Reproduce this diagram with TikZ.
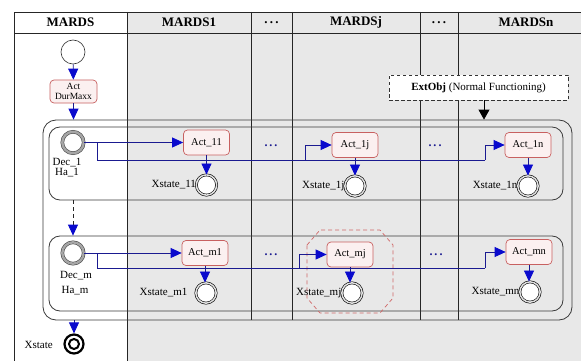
\documentclass[tikz,border=0pt]{standalone}
\usepackage{fontspec}
\setmainfont{Liberation Serif}
\usetikzlibrary{arrows.meta}
\definecolor{bgray}{HTML}{E8E8E8}
\definecolor{actred}{HTML}{C86060}
\definecolor{actfill}{HTML}{FBF0F0}
\definecolor{navy}{HTML}{1A1A90}
\definecolor{tipblue}{HTML}{0A0ACD}
\definecolor{boxline}{HTML}{3A3A3A}
\definecolor{octred}{HTML}{D06868}
\begin{document}
\begin{tikzpicture}[x=1pt,y=-1pt,
  tline/.style={draw=black!85,line width=0.9pt},
  hdr/.style={font=\fontsize{13}{14}\selectfont\bfseries,inner sep=0pt},
  lbl/.style={font=\fontsize{11}{12}\selectfont,inner sep=0pt},
  actbox/.style={draw=actred,fill=actfill,rounded corners=4pt,minimum width=46pt,minimum height=25pt,inner sep=0pt,line width=0.7pt,font=\fontsize{10.5}{11}\selectfont},
  region/.style={draw=boxline,rounded corners=11pt,line width=0.8pt,inner sep=0pt},
  decstate/.style={circle,draw=black!70,double=black!35,double distance=2.4pt,line width=0.6pt,minimum size=21.4pt,inner sep=0pt,fill=white},
  xstate/.style={circle,draw=black,double=black!12,double distance=1.5pt,line width=0.6pt,minimum size=20.3pt,inner sep=0pt,fill=white},
  conn/.style={draw=navy,line width=0.8pt},
  arr/.style={-{Triangle[width=10pt,length=11pt,color=tipblue]}},
  blackarr/.style={draw=black,line width=0.8pt,-{Triangle[width=11pt,length=10pt,color=black]}},
  dots/.style={font=\fontsize{12}{12}\selectfont\bfseries,text=navy,inner sep=0pt}
]
\useasboundingbox (0,0) rectangle (581,361);
\fill[white] (0,0) rectangle (581,361);
\fill[bgray] (127,12) rectangle (581,361);

% table
\draw[tline] (14,361) -- (14,12) -- (581,12);
\draw[tline] (14,33) -- (581,33);
\draw[tline] (127,12) -- (127,361);
\foreach \cx in {251,292,420,458} \draw[tline] (\cx,12) -- (\cx,320);

\node[hdr] (h0) at (70.5,22.5) {MARDS};
\node[hdr] (h1) at (189,22.5) {MARDS1};
\node[hdr] (h2) at (271.5,23) {.\,.\,.};
\node[hdr] (h3) at (356,22.5) {MARDSj};
\node[hdr] (h4) at (439,23) {.\,.\,.};
\node[hdr] (h5) at (526,22.5) {MARDSn};

% regions
\node[region,minimum width=529pt,minimum height=200pt,rounded corners=13pt] (outer) at (307.5,220) {};
\node[region,minimum width=514pt,minimum height=73pt] (box1) at (306,163.5) {};
\node[region,minimum width=514pt,minimum height=75pt] (boxm) at (306,273.5) {};

% highlighted area
\draw[draw=octred,line width=0.7pt,dash pattern=on 4pt off 3pt]
  (307,245) -- (320,230) -- (380,230) -- (393,245) -- (393,298) -- (380,313) -- (320,313) -- (307,298) -- cycle;

% external object
\node[draw=black!80,dash pattern=on 3.5pt off 2.5pt,line width=0.7pt,fill=white,minimum width=179pt,minimum height=25pt,inner sep=0pt,font=\fontsize{11}{12}\selectfont] (ext) at (478.5,87.5) {\textbf{ExtObj} (Normal Functioning)};
\coordinate (extx) at (484,0);

% MARDS column
\node[circle,draw=black!80,fill=white,line width=0.6pt,minimum size=24pt,inner sep=0pt] (start) at (73,52) {};
\node[actbox,minimum width=47pt,minimum height=23pt,align=center,font=\fontsize{9.5}{10}\selectfont] (dur) at (73.5,91.5) {Act\\DurMaxx};

% row 1
\node[decstate] (dec1) at (73,142.5) {};
\node[lbl] (dec1a) at (67,162.5) {Dec\_1};
\node[lbl] (dec1b) at (67,173) {Ha\_1};
\node[actbox] (act11) at (206.5,142.5) {Act\_11};
\node[actbox] (act1j) at (355,145) {Act\_1j};
\node[actbox] (act1n) at (528,145) {Act\_1n};
\node[xstate] (xs11) at (206.5,185) {};
\node[xstate] (xs1j) at (355,186) {};
\node[xstate] (xs1n) at (528,186) {};
\node[lbl,anchor=east] (xl11) at (xs11.west) {Xstate\_11};
\node[lbl,anchor=east] (xl1j) at (xs1j.west) {Xstate\_1j};
\node[lbl,anchor=east] (xl1n) at (xs1n.west) {Xstate\_1n};
\node[dots] (d1a) at (271,146) {.\,.\,.};
\node[dots] (d1b) at (435,146) {.\,.\,.};

% row m
\node[decstate] (decm) at (73,253) {};
\node[lbl] (decma) at (76,276) {Dec\_m};
\node[lbl] (decmb) at (75,291) {Ha\_m};
\node[actbox] (actm1) at (205,253) {Act\_m1};
\node[actbox] (actmj) at (350,254.5) {Act\_mj};
\node[actbox] (actmn) at (529,252) {Act\_mn};
\node[xstate] (xsm1) at (206,293) {};
\node[xstate] (xsmj) at (352,293) {};
\node[xstate] (xsmn) at (530,292) {};
\node[lbl,anchor=east] (xlm1) at ([xshift=-8pt]xsm1.west) {Xstate\_m1};
\node[lbl,anchor=east] (xlmj) at (xsmj.west) {Xstate\_mj};
\node[lbl,anchor=east] (xlmn) at (xsmn.west) {Xstate\_mn};
\node[dots] (dma) at (271,255) {.\,.\,.};
\node[dots] (dmb) at (436,255) {.\,.\,.};

% final state
\node[circle,draw=black,line width=2.2pt,fill=white,minimum size=19pt,inner sep=0pt] (xfinal) at (74,344) {};
\draw[line width=2pt] (xfinal.center) circle (5pt);
\node[lbl,anchor=east] (xlfinal) at (53,345) {Xstate};

% connectors
\draw[conn,arr] (start) -- (dur);
\draw[conn,arr] (dur.south) -- (dur.south |- outer.north);
\draw[blackarr] (ext.south -| extx) -- (outer.north -| extx);

\coordinate (b1) at (97,142.5);
\coordinate (r1j) at (305,160);
\coordinate (r1n) at (485,160);
\draw[conn,arr] (dec1) -- (act11);
\draw[conn] (b1) |- (r1n);
\draw[conn,arr] (r1j) |- (act1j.west);
\draw[conn,arr] (r1n) |- (act1n.west);
\draw[conn,arr] (act11) -- (xs11);
\draw[conn,arr] (act1j) -- (xs1j);
\draw[conn,arr] (act1n) -- (xs1n);

\draw[draw=black!85,line width=0.8pt,dash pattern=on 4pt off 3pt,arr] (box1.south -| dec1) -- (boxm.north -| dec1);

\coordinate (bm) at (97,253);
\coordinate (rmj) at (299,268);
\coordinate (rmn) at (485,268);
\draw[conn,arr] (decm) -- (actm1);
\draw[conn] (bm) |- (rmn);
\draw[conn,arr] (rmj) |- (actmj.west);
\draw[conn,arr] (rmn) |- (actmn.west);
\draw[conn,arr] (actm1.south) -- (actm1.south |- xsm1.north);
\draw[conn,arr] (actmj.south) -- (actmj.south |- xsmj.north);
\draw[conn,arr] (actmn.south) -- (actmn.south |- xsmn.north);

\draw[conn,arr] (outer.south -| xfinal) -- (xfinal.north);
\end{tikzpicture}
\end{document}
